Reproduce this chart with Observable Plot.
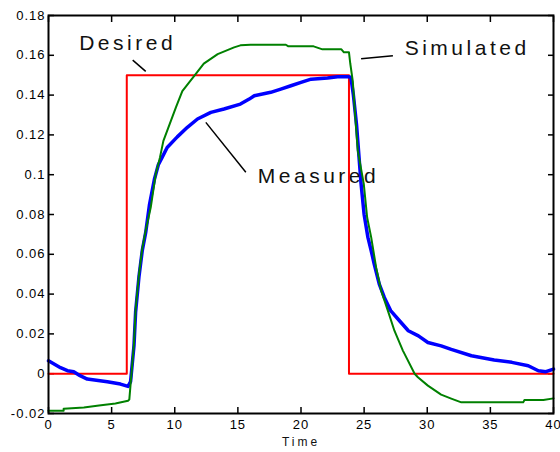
<!DOCTYPE html>
<html><head><meta charset="utf-8">
<script src="https://cdn.jsdelivr.net/npm/d3@7"></script>
<script src="https://cdn.jsdelivr.net/npm/@observablehq/plot@0.6"></script>
<style>body{margin:0;background:#fff}</style>
</head><body><div id="chart"></div>
<script>
// Desired (red step)
const desiredT = [0, 6.2, 6.2, 23.8, 23.8, 40];
const desiredV = [0, 0, 0.15, 0.15, 0, 0];
// Simulated (green)
const simT = [0, 1.2, 1.2, 2.8, 4.0, 5.3, 6.3, 6.4, 6.77, 6.9, 7.17, 7.43, 7.7, 8.1, 8.5, 8.83, 9.1, 10.1, 10.6, 11.67, 12.3, 13.4, 14.7, 15.2, 16, 18.8, 19, 21, 21.7, 23.2, 23.4, 23.8, 23.9, 24.1, 24.3, 24.5, 24.97, 25.24, 25.56, 25.95, 26.35, 26.88, 27.4, 28.07, 29.0, 29.26, 30.05, 31.1, 31.9, 32.7, 37.6, 37.7, 39.2, 40];
const simV = [-0.0186, -0.0186, -0.0176, -0.017, -0.016, -0.015, -0.0136, -0.013, 0.015, 0.032, 0.05, 0.063, 0.072, 0.0836, 0.1005, 0.1087, 0.117, 0.134, 0.142, 0.1507, 0.1558, 0.1606, 0.164, 0.165, 0.1653, 0.1653, 0.1645, 0.1645, 0.163, 0.163, 0.1615, 0.1615, 0.156, 0.147, 0.129, 0.112, 0.0955, 0.0785, 0.0685, 0.0534, 0.0417, 0.0317, 0.0216, 0.0116, 0, -0.0018, -0.006, -0.0105, -0.0125, -0.0144, -0.0144, -0.0132, -0.0132, -0.0124];
// Measured (blue)
const measT = [0, 0.95, 1.5, 2.0, 2.5, 3.07, 4.66, 5.7, 6.3, 6.5, 6.77, 6.9, 7.17, 7.43, 7.7, 8.0, 8.4, 8.7, 9.0, 9.4, 10.2, 11.0, 11.8, 12.86, 13.9, 15.2, 15.9, 16.3, 17.6, 18.4, 19.2, 20, 20.8, 22.1, 22.9, 23.7, 23.95, 24.15, 24.4, 24.76, 25.0, 25.3, 25.56, 25.8, 26.2, 26.6, 27.1, 27.8, 28.5, 29.3, 30.05, 31.1, 31.9, 33.5, 35.3, 36.7, 38.0, 38.8, 39.4, 40];
const measV = [0.0065, 0.003, 0.0015, 0.001, -0.001, -0.0027, -0.004, -0.0052, -0.0064, -0.004, 0.014, 0.031, 0.049, 0.062, 0.071, 0.085, 0.098, 0.105, 0.1087, 0.1137, 0.119, 0.1238, 0.128, 0.1313, 0.133, 0.1355, 0.138, 0.1397, 0.1414, 0.143, 0.1447, 0.1464, 0.148, 0.1486, 0.1492, 0.1492, 0.149, 0.14, 0.125, 0.0953, 0.080, 0.0685, 0.0618, 0.0551, 0.045, 0.0383, 0.0317, 0.0266, 0.0216, 0.019, 0.0157, 0.014, 0.0122, 0.009, 0.0069, 0.0057, 0.004, 0.0015, 0.001, 0.0023];
// Ticks
const xTicks = [0, 5, 10, 15, 20, 25, 30, 35, 40];
const yTicks = [-0.02, 0, 0.02, 0.04, 0.06, 0.08, 0.1, 0.12, 0.14, 0.16, 0.18];
// Annotations
const labelText = ["Desired", "Simulated", "Measured"];
const labelT = [6.11, 33.0, 21.23];
const labelV = [0.1658, 0.1633, 0.0992];
const leaderT1 = [6.67, 24.76, 12.46];
const leaderV1 = [0.1576, 0.1583, 0.1263];
const leaderT2 = [7.7, 27.28, 15.63];
const leaderV2 = [0.1519, 0.1598, 0.1012];
const xLabel = "Time";

const series = (T, V) => T.map((t, i) => ({t, v: V[i]}));
const desired = series(desiredT, desiredV);
const sim = series(simT, simV);
const meas = series(measT, measV);
const labels = labelText.map((s, i) => ({s, t: labelT[i], v: labelV[i]}));
const leaders = leaderT1.map((t, i) => ({t1: t, v1: leaderV1[i], t2: leaderT2[i], v2: leaderV2[i]}));
const fmt = d => String(+d.toFixed(2));

const chart = Plot.plot({
  width: 560, height: 452,
  marginTop: 15, marginRight: 7, marginBottom: 39, marginLeft: 48,
  style: {fontFamily: "'Liberation Sans', Arial, sans-serif", fontSize: "13px", color: "#000", background: "#fff"},
  x: {domain: [0, 40]},
  y: {domain: [-0.02, 0.18]},
  marks: [
    Plot.axisX({ticks: xTicks, tickSize: -6, tickPadding: 12, tickFormat: fmt, label: null, strokeWidth: 1.5}),
    Plot.axisX({anchor: "top", ticks: xTicks, tickSize: -6, tickFormat: () => "", label: null, strokeWidth: 1.5}),
    Plot.axisY({ticks: yTicks, tickSize: -6, tickPadding: 9, tickFormat: fmt, label: null, strokeWidth: 1.5}),
    Plot.axisY({anchor: "right", ticks: yTicks, tickSize: -6, tickFormat: () => "", label: null, strokeWidth: 1.5}),
    Plot.line(desired, {x: "t", y: "v", stroke: "#ff0000", strokeWidth: 2}),
    Plot.line(meas, {x: "t", y: "v", stroke: "#0000ff", strokeWidth: 3.5}),
    Plot.line(sim, {x: "t", y: "v", stroke: "#008000", strokeWidth: 2}),
    Plot.link(leaders, {x1: "t1", y1: "v1", x2: "t2", y2: "v2", stroke: "#000", strokeWidth: 1.5}),
    Plot.text(labels, {x: "t", y: "v", text: "s", fontSize: 21, fill: "#111", dx: 2}),
    Plot.text([xLabel], {frameAnchor: "bottom", dy: 32, fontSize: 12, fill: "#111"}),
    Plot.frame({stroke: "#000", strokeWidth: 2})
  ]
});
document.getElementById("chart").appendChild(chart);
chart.querySelectorAll("text").forEach(el => {
  const s = el.textContent;
  let ls = "1px";
  if (labelText.includes(s)) ls = "3.5px";
  else if (s === xLabel) ls = "3px";
  el.setAttribute("letter-spacing", ls);
  el.style.letterSpacing = ls;
  el.querySelectorAll("tspan").forEach(t => { t.setAttribute("letter-spacing", ls); t.style.letterSpacing = ls; });
});
</script>
</body></html>
